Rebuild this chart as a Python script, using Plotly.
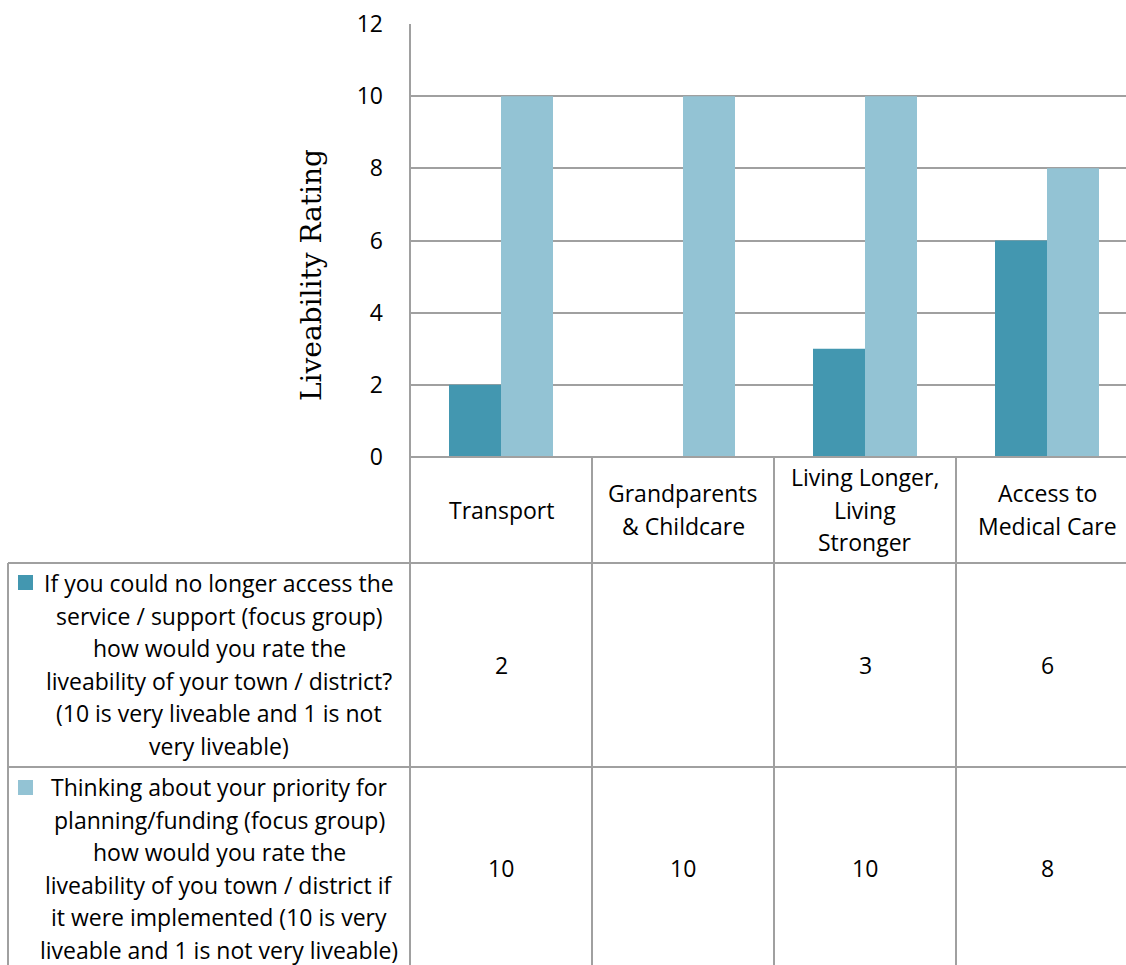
import plotly.graph_objects as go

categories = ["Transport", "Grandparents & Childcare", "Living Longer, Living Stronger", "Access to Medical Care"]
category_lines = [["Transport"], ["Grandparents", "& Childcare"], ["Living Longer,", "Living", "Stronger"], ["Access to", "Medical Care"]]
series_names = [
    "If you could no longer access the service / support (focus group) how would you rate the liveability of your town / district? (10 is very liveable and 1 is not very liveable)",
    "Thinking about your priority for planning/funding (focus group) how would you rate the liveability of you town / district if it were implemented (10 is very liveable and 1 is not very liveable)",
]
series_lines = [
    ["If you could no longer access the", "service / support (focus group)", "how would you rate the",
     "liveability of your town / district?", "(10 is very liveable and 1 is not", "very liveable)"],
    ["Thinking about your priority for", "planning/funding (focus group)", "how would you rate the",
     "liveability of you town / district if", "it were implemented (10 is very", "liveable and 1 is not very liveable)"],
]
no_access = [2, None, 3, 6]
priority = [10, 10, 10, 8]
y_ticks = [0, 2, 4, 6, 8, 10, 12]
axis_title = "Liveability Rating"

colors = ["#4397B0", "#93C3D4"]
grid = "#A0A0A0"
W, H = 1126, 965
L, T, B = 410, 24, 457
COLW = 182
FONT = "Open Sans"
FS = 23

def px2x(px):
    return (px - L) / (W - L)

def py2y(py):
    return (B - py) / (B - T)

fig = go.Figure()
for name, vals, col in zip(series_names, [no_access, priority], colors):
    fig.add_trace(go.Bar(x=categories, y=vals, name=name, marker=dict(color=col, line=dict(width=0)),
                         showlegend=False))

shapes = []
line = dict(color=grid, width=2)
# left border (axis + table)
shapes.append(dict(type="line", xref="paper", yref="paper", x0=0, x1=0, y0=1, y1=py2y(H + 5), line=line))
# table horizontal lines
for py, x0 in [(B, 0), (563, px2x(8)), (767, px2x(8))]:
    shapes.append(dict(type="line", xref="paper", yref="paper", x0=x0, x1=1.01, y0=py2y(py), y1=py2y(py), line=line))
# table left border for series rows
shapes.append(dict(type="line", xref="paper", yref="paper", x0=px2x(8), x1=px2x(8), y0=py2y(563), y1=py2y(H + 5), line=line))
# column dividers
for i in range(len(categories)):
    shapes.append(dict(type="line", xref="x", yref="paper", x0=i + 0.5, x1=i + 0.5, y0=0, y1=py2y(H + 5), line=line))
# legend keys
for col, (y0, y1) in zip(colors, [(575, 590), (780, 795)]):
    shapes.append(dict(type="rect", xref="paper", yref="paper", x0=px2x(18), x1=px2x(33), y0=py2y(y0), y1=py2y(y1),
                       fillcolor=col, line=dict(width=0)))

ann = []
LS = 32.5
# category labels
for cat, lines in zip(categories, category_lines):
    n = len(lines)
    for k, t in enumerate(lines):
        yc = 509.5 + (k - (n - 1) / 2) * LS
        ann.append(dict(x=cat, xref="x", yref="paper", y=py2y(yc), text=t, showarrow=False,
                        xanchor="center", yanchor="middle", font=dict(family=FONT, size=FS, color="black")))
# series labels
for lines, y_first in zip(series_lines, [583, 787]):
    for k, t in enumerate(lines):
        ann.append(dict(x=px2x(219), xref="paper", yref="paper", y=py2y(y_first + k * LS), text=t, showarrow=False,
                        xanchor="center", yanchor="middle", font=dict(family=FONT, size=FS, color="black")))
# values
for vals, yc in zip([no_access, priority], [665, 868]):
    for cat, v in zip(categories, vals):
        if v is None:
            continue
        ann.append(dict(x=cat, xref="x", yref="paper", y=py2y(yc), text=str(v), showarrow=False,
                        xanchor="center", yanchor="middle", font=dict(family=FONT, size=FS, color="black")))
# axis title
ann.append(dict(x=px2x(311), xref="paper", y=py2y(275), yref="paper", text=axis_title, textangle=-90,
                showarrow=False, xanchor="center", yanchor="middle",
                font=dict(family="DejaVu Serif", size=28, color="black")))

fig.update_layout(
    width=W, height=H,
    margin=dict(l=L, r=0, t=T, b=H - B, pad=0),
    paper_bgcolor="white", plot_bgcolor="white",
    barmode="group", bargap=0.4286, bargroupgap=0,
    shapes=shapes, annotations=ann,
    xaxis=dict(type="category", range=[-0.5, -0.5 + (W - L) / COLW], showticklabels=False, showgrid=False,
               zeroline=False, showline=False, ticks=""),
    yaxis=dict(range=[0, 12], tickvals=y_ticks, showgrid=True, gridcolor=grid, gridwidth=2, zeroline=False,
               showline=False, ticks="", ticklabelstandoff=26,
               tickfont=dict(family=FONT, size=FS, color="black")),
)
fig.write_html("out.html")
